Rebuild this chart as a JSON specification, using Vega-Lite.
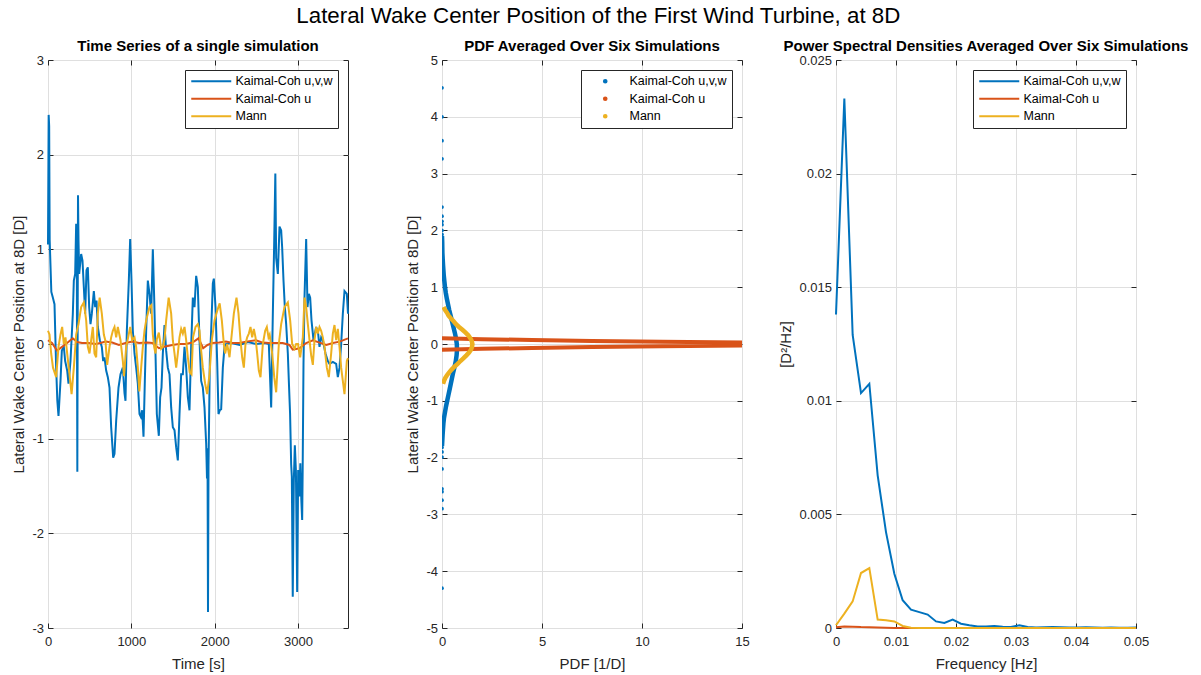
{
"$schema": "https://vega.github.io/schema/vega-lite/v6.json",
"background": "white",
"padding": {"left": 11, "top": 4, "right": 5, "bottom": 5},
"autosize": {"type": "pad"},
"bounds": "flush",
"spacing": 94,
"title": {"text": "Lateral Wake Center Position of the First Wind Turbine, at 8D", "fontSize": 22.3, "font": "Liberation Sans", "fontWeight": "normal", "color": "#000000", "anchor": "middle", "offset": 10, "dx": -2},
"config": {
  "font": "Liberation Sans",
  "view": {"stroke": "#262626", "strokeWidth": 1},
  "axis": {"labelFont": "Liberation Sans", "labelFontSize": 13, "labelColor": "#262626", "titleFont": "Liberation Sans", "titleFontSize": 15, "titleFontWeight": "normal", "titleColor": "#262626", "gridColor": "#dfdfdf", "gridWidth": 1, "tickColor": "#262626", "tickSize": -5, "tickWidth": 1, "domain": false, "labelFlush": false, "labelOverlap": false, "labelExpr": "'' + datum.value"},
  "axisX": {"labelPadding": 12, "titlePadding": 8},
  "axisY": {"labelPadding": 9.5, "titlePadding": 5},
  "title": {"font": "Liberation Sans", "fontSize": 15, "fontWeight": "bold", "color": "#000000", "offset": -1.5, "dy": -1.5},
  "legend": {"orient": "top-right", "offset": 10, "strokeColor": "#262626", "fillColor": "white", "padding": 5, "labelFont": "Liberation Sans", "labelFontSize": 12.5, "labelColor": "#000000", "rowPadding": 4.5, "cornerRadius": 0, "labelLimit": 300}
},
"resolve": {"legend": {"color": "independent"}},
"datasets": {
"ts_b": [{"t":0,"v":1.05},{"t":8,"v":2.42},{"t":14,"v":2.3},{"t":20,"v":1.1},{"t":40,"v":0.55},{"t":58,"v":0.49},{"t":78,"v":0.42},{"t":98,"v":-0.25},{"t":112,"v":-0.6},{"t":126,"v":-0.76},{"t":150,"v":-0.39},{"t":166,"v":-0.07},{"t":190,"v":-0.03},{"t":206,"v":-0.18},{"t":230,"v":-0.28},{"t":246,"v":-0.42},{"t":270,"v":-0.18},{"t":298,"v":0.32},{"t":310,"v":0.67},{"t":326,"v":0.74},{"t":338,"v":1.27},{"t":346,"v":0.74},{"t":352,"v":-1.35},{"t":356,"v":0.2},{"t":360,"v":1.57},{"t":366,"v":1.1},{"t":374,"v":0.74},{"t":398,"v":0.95},{"t":414,"v":0.88},{"t":430,"v":0.6},{"t":446,"v":0.32},{"t":462,"v":0.78},{"t":478,"v":0.81},{"t":494,"v":0.39},{"t":510,"v":0.21},{"t":526,"v":0.32},{"t":550,"v":0.56},{"t":566,"v":0.39},{"t":582,"v":0.46},{"t":598,"v":0.18},{"t":622,"v":0.04},{"t":646,"v":-0.03},{"t":662,"v":-0.18},{"t":678,"v":-0.14},{"t":698,"v":-0.28},{"t":718,"v":-0.35},{"t":738,"v":-0.46},{"t":758,"v":-0.88},{"t":782,"v":-1.2},{"t":798,"v":-1.16},{"t":818,"v":-0.81},{"t":846,"v":-0.46},{"t":870,"v":-0.32},{"t":898,"v":-0.25},{"t":918,"v":-0.52},{"t":930,"v":-0.6},{"t":946,"v":0.14},{"t":970,"v":0.67},{"t":986,"v":1.11},{"t":1002,"v":0.67},{"t":1018,"v":0.14},{"t":1038,"v":-0.1},{"t":1058,"v":-0.25},{"t":1078,"v":-0.42},{"t":1098,"v":-0.74},{"t":1114,"v":-0.77},{"t":1130,"v":-0.7},{"t":1146,"v":-0.98},{"t":1162,"v":-0.39},{"t":1178,"v":0.14},{"t":1198,"v":0.67},{"t":1218,"v":0.53},{"t":1238,"v":0.32},{"t":1258,"v":1.0},{"t":1274,"v":0.49},{"t":1290,"v":-0.1},{"t":1306,"v":-0.74},{"t":1330,"v":-0.97},{"t":1346,"v":-0.56},{"t":1362,"v":-0.46},{"t":1378,"v":-0.1},{"t":1398,"v":0.2},{"t":1418,"v":-0.07},{"t":1438,"v":-0.25},{"t":1458,"v":-0.32},{"t":1478,"v":-0.67},{"t":1498,"v":-0.88},{"t":1518,"v":-0.91},{"t":1538,"v":-1.09},{"t":1558,"v":-1.23},{"t":1578,"v":-0.74},{"t":1598,"v":-0.32},{"t":1618,"v":-0.32},{"t":1638,"v":-0.03},{"t":1658,"v":-0.25},{"t":1678,"v":-0.56},{"t":1698,"v":-0.7},{"t":1718,"v":-0.03},{"t":1738,"v":0.49},{"t":1758,"v":0.39},{"t":1778,"v":0.72},{"t":1798,"v":0.6},{"t":1818,"v":0.04},{"t":1838,"v":-0.39},{"t":1858,"v":-0.46},{"t":1878,"v":-0.67},{"t":1898,"v":-1.05},{"t":1908,"v":-1.42},{"t":1914,"v":-1.1},{"t":1920,"v":-2.83},{"t":1926,"v":-1.3},{"t":1942,"v":-0.17},{"t":1958,"v":0.14},{"t":1978,"v":0.64},{"t":1990,"v":0.69},{"t":2010,"v":0.39},{"t":2030,"v":-0.18},{"t":2046,"v":-0.74},{"t":2062,"v":-0.7},{"t":2078,"v":-0.69},{"t":2098,"v":-0.25},{"t":2118,"v":-0.03},{"t":2138,"v":0.0},{"t":2200,"v":0.01},{"t":2300,"v":-0.01},{"t":2400,"v":0.02},{"t":2500,"v":0.0},{"t":2600,"v":0.01},{"t":2650,"v":0.0},{"t":2678,"v":-0.67},{"t":2698,"v":0.32},{"t":2714,"v":1.06},{"t":2728,"v":1.8},{"t":2738,"v":0.91},{"t":2758,"v":0.74},{"t":2778,"v":1.24},{"t":2798,"v":1.2},{"t":2810,"v":1.02},{"t":2826,"v":0.67},{"t":2842,"v":0.39},{"t":2858,"v":0.21},{"t":2878,"v":-0.1},{"t":2890,"v":-0.39},{"t":2905,"v":-0.74},{"t":2918,"v":-1.27},{"t":2926,"v":-1.4},{"t":2937,"v":-2.67},{"t":2950,"v":-1.44},{"t":2962,"v":-1.07},{"t":2975,"v":-1.34},{"t":2990,"v":-2.62},{"t":3002,"v":-1.33},{"t":3016,"v":-1.61},{"t":3028,"v":-1.26},{"t":3040,"v":-1.65},{"t":3050,"v":-1.86},{"t":3056,"v":-1.33},{"t":3066,"v":-0.2},{"t":3078,"v":0.49},{"t":3098,"v":1.11},{"t":3114,"v":0.39},{"t":3130,"v":0.53},{"t":3146,"v":0.49},{"t":3162,"v":0.25},{"t":3186,"v":0.04},{"t":3218,"v":0.18},{"t":3242,"v":0.11},{"t":3258,"v":-0.03},{"t":3278,"v":0.07},{"t":3298,"v":0.04},{"t":3330,"v":-0.1},{"t":3358,"v":-0.18},{"t":3378,"v":-0.21},{"t":3418,"v":-0.19},{"t":3458,"v":-0.21},{"t":3478,"v":-0.35},{"t":3498,"v":-0.25},{"t":3518,"v":0.0},{"t":3538,"v":0.32},{"t":3558,"v":0.56},{"t":3586,"v":0.53},{"t":3600,"v":0.32}],
"ts_o": [{"t":0,"v":0.04},{"t":48,"v":0.01},{"t":108,"v":-0.07},{"t":169,"v":-0.03},{"t":229,"v":0.01},{"t":297,"v":0.06},{"t":349,"v":0.02},{"t":409,"v":0.01},{"t":490,"v":0.01},{"t":570,"v":0.0},{"t":630,"v":0.01},{"t":690,"v":0.025},{"t":770,"v":0.015},{"t":851,"v":-0.01},{"t":931,"v":0.01},{"t":1011,"v":0.025},{"t":1092,"v":0.01},{"t":1192,"v":0.015},{"t":1252,"v":0.01},{"t":1332,"v":-0.045},{"t":1393,"v":-0.03},{"t":1493,"v":-0.01},{"t":1573,"v":0.0},{"t":1653,"v":0.0},{"t":1734,"v":0.015},{"t":1806,"v":0.06},{"t":1862,"v":-0.045},{"t":1914,"v":-0.01},{"t":1974,"v":0.01},{"t":2055,"v":0.015},{"t":2135,"v":0.025},{"t":2215,"v":0.01},{"t":2295,"v":0.01},{"t":2376,"v":0.025},{"t":2496,"v":0.04},{"t":2576,"v":0.015},{"t":2657,"v":0.01},{"t":2737,"v":0.01},{"t":2817,"v":0.01},{"t":2897,"v":-0.01},{"t":2937,"v":-0.06},{"t":3018,"v":-0.045},{"t":3098,"v":0.01},{"t":3178,"v":0.04},{"t":3259,"v":0.015},{"t":3339,"v":-0.01},{"t":3419,"v":0.01},{"t":3499,"v":0.025},{"t":3600,"v":0.06}],
"ts_y": [{"t":0,"v":0.14},{"t":18,"v":0.1},{"t":38,"v":-0.1},{"t":60,"v":-0.25},{"t":98,"v":-0.35},{"t":126,"v":-0.03},{"t":150,"v":0.1},{"t":170,"v":0.18},{"t":190,"v":0.0},{"t":210,"v":0.07},{"t":230,"v":-0.1},{"t":258,"v":-0.32},{"t":283,"v":-0.53},{"t":310,"v":-0.25},{"t":338,"v":0.1},{"t":366,"v":0.21},{"t":398,"v":0.39},{"t":430,"v":0.44},{"t":458,"v":0.25},{"t":478,"v":-0.03},{"t":498,"v":-0.1},{"t":518,"v":0.04},{"t":538,"v":0.18},{"t":558,"v":-0.1},{"t":578,"v":-0.14},{"t":598,"v":0.32},{"t":620,"v":0.49},{"t":646,"v":0.32},{"t":670,"v":0.1},{"t":690,"v":0.03},{"t":710,"v":-0.22},{"t":738,"v":-0.03},{"t":758,"v":0.07},{"t":778,"v":0.14},{"t":798,"v":0.18},{"t":818,"v":0.07},{"t":838,"v":0.18},{"t":870,"v":0.04},{"t":898,"v":-0.18},{"t":912,"v":-0.34},{"t":938,"v":-0.03},{"t":962,"v":0.07},{"t":986,"v":0.18},{"t":1010,"v":0.04},{"t":1038,"v":0.07},{"t":1058,"v":-0.03},{"t":1078,"v":-0.25},{"t":1096,"v":-0.5},{"t":1118,"v":-0.25},{"t":1138,"v":-0.03},{"t":1158,"v":0.14},{"t":1178,"v":0.25},{"t":1218,"v":0.39},{"t":1240,"v":0.41},{"t":1258,"v":0.1},{"t":1274,"v":-0.03},{"t":1290,"v":-0.1},{"t":1306,"v":0.05},{"t":1330,"v":0.12},{"t":1358,"v":-0.05},{"t":1378,"v":-0.03},{"t":1398,"v":0.05},{"t":1418,"v":0.25},{"t":1448,"v":0.49},{"t":1478,"v":0.32},{"t":1498,"v":0.04},{"t":1518,"v":-0.1},{"t":1538,"v":-0.25},{"t":1558,"v":-0.1},{"t":1578,"v":0.07},{"t":1598,"v":0.16},{"t":1618,"v":0.11},{"t":1638,"v":0.18},{"t":1658,"v":0.04},{"t":1678,"v":-0.14},{"t":1700,"v":-0.3},{"t":1722,"v":-0.32},{"t":1740,"v":0.07},{"t":1770,"v":0.18},{"t":1798,"v":0.21},{"t":1818,"v":0.14},{"t":1830,"v":0.0},{"t":1858,"v":-0.25},{"t":1886,"v":-0.42},{"t":1910,"v":-0.53},{"t":1938,"v":-0.32},{"t":1966,"v":0.04},{"t":1998,"v":0.25},{"t":2030,"v":0.35},{"t":2060,"v":0.43},{"t":2086,"v":0.25},{"t":2110,"v":0.0},{"t":2126,"v":-0.1},{"t":2150,"v":0.0},{"t":2178,"v":-0.14},{"t":2198,"v":0.04},{"t":2230,"v":0.32},{"t":2262,"v":0.49},{"t":2286,"v":0.32},{"t":2310,"v":0.04},{"t":2330,"v":-0.14},{"t":2350,"v":-0.25},{"t":2370,"v":0.0},{"t":2390,"v":0.07},{"t":2410,"v":0.11},{"t":2430,"v":0.18},{"t":2450,"v":0.07},{"t":2470,"v":0.16},{"t":2490,"v":0.07},{"t":2510,"v":-0.1},{"t":2530,"v":-0.28},{"t":2550,"v":-0.35},{"t":2578,"v":0.0},{"t":2606,"v":0.14},{"t":2626,"v":0.18},{"t":2646,"v":0.07},{"t":2660,"v":0.1},{"t":2690,"v":-0.1},{"t":2715,"v":-0.35},{"t":2738,"v":-0.51},{"t":2770,"v":0.0},{"t":2798,"v":0.21},{"t":2838,"v":0.39},{"t":2878,"v":0.44},{"t":2906,"v":0.25},{"t":2930,"v":0.0},{"t":2958,"v":-0.05},{"t":2978,"v":0.0},{"t":3000,"v":0.0},{"t":3026,"v":-0.14},{"t":3058,"v":0.07},{"t":3078,"v":0.49},{"t":3098,"v":0.39},{"t":3118,"v":0.21},{"t":3138,"v":0.04},{"t":3158,"v":-0.12},{"t":3178,"v":-0.22},{"t":3198,"v":0.04},{"t":3218,"v":0.18},{"t":3238,"v":0.11},{"t":3258,"v":0.18},{"t":3278,"v":0.14},{"t":3298,"v":0.07},{"t":3318,"v":-0.03},{"t":3346,"v":-0.25},{"t":3370,"v":-0.35},{"t":3398,"v":-0.1},{"t":3418,"v":0.11},{"t":3438,"v":0.2},{"t":3458,"v":0.04},{"t":3478,"v":0.16},{"t":3498,"v":-0.03},{"t":3518,"v":-0.25},{"t":3538,"v":-0.39},{"t":3558,"v":-0.53},{"t":3586,"v":-0.18},{"t":3600,"v":-0.15}],
"pdf_b": [{"y":1.9,"p":0.0},{"y":1.8,"p":0.01},{"y":1.7,"p":0.015},{"y":1.6,"p":0.02},{"y":1.5,"p":0.035},{"y":1.4,"p":0.05},{"y":1.3,"p":0.07},{"y":1.2,"p":0.09},{"y":1.1,"p":0.12},{"y":1.0,"p":0.15},{"y":0.9,"p":0.19},{"y":0.8,"p":0.24},{"y":0.7,"p":0.3},{"y":0.6,"p":0.36},{"y":0.5,"p":0.43},{"y":0.4,"p":0.5},{"y":0.3,"p":0.57},{"y":0.2,"p":0.64},{"y":0.1,"p":0.7},{"y":0.0,"p":0.74},{"y":-0.1,"p":0.75},{"y":-0.2,"p":0.73},{"y":-0.3,"p":0.69},{"y":-0.4,"p":0.63},{"y":-0.5,"p":0.56},{"y":-0.6,"p":0.5},{"y":-0.7,"p":0.44},{"y":-0.8,"p":0.38},{"y":-0.9,"p":0.32},{"y":-1.0,"p":0.26},{"y":-1.1,"p":0.2},{"y":-1.2,"p":0.15},{"y":-1.3,"p":0.1},{"y":-1.4,"p":0.07},{"y":-1.5,"p":0.05},{"y":-1.6,"p":0.03},{"y":-1.7,"p":0.015},{"y":-1.8,"p":0.0}],
"pdf_bp": [{"y":4.51,"p":0},{"y":4.0,"p":0},{"y":3.58,"p":0},{"y":3.26,"p":0},{"y":2.41,"p":0},{"y":2.25,"p":0},{"y":2.16,"p":0},{"y":2.1,"p":0},{"y":2.0,"p":0},{"y":1.93,"p":0},{"y":-1.82,"p":0},{"y":-1.9,"p":0},{"y":-1.99,"p":0},{"y":-2.2,"p":0},{"y":-2.55,"p":0},{"y":-2.6,"p":0},{"y":-2.75,"p":0},{"y":-2.9,"p":0},{"y":-4.3,"p":0}],
"pdf_o": [{"y":-0.1,"p":0},{"y":-0.085,"p":2},{"y":-0.07,"p":4.5},{"y":-0.055,"p":7.5},{"y":-0.04,"p":11},{"y":-0.025,"p":15},{"y":0.0,"p":18},{"y":0.025,"p":15},{"y":0.04,"p":11},{"y":0.055,"p":7.5},{"y":0.07,"p":4.5},{"y":0.085,"p":2},{"y":0.1,"p":0}],
"pdf_y": [{"y":0.65,"p":0.08},{"y":0.6,"p":0.15},{"y":0.55,"p":0.25},{"y":0.5,"p":0.33},{"y":0.45,"p":0.45},{"y":0.4,"p":0.58},{"y":0.35,"p":0.7},{"y":0.3,"p":0.85},{"y":0.25,"p":1.02},{"y":0.2,"p":1.18},{"y":0.15,"p":1.32},{"y":0.1,"p":1.42},{"y":0.05,"p":1.49},{"y":0.0,"p":1.52},{"y":-0.05,"p":1.5},{"y":-0.1,"p":1.45},{"y":-0.15,"p":1.35},{"y":-0.2,"p":1.22},{"y":-0.25,"p":1.08},{"y":-0.3,"p":0.92},{"y":-0.35,"p":0.78},{"y":-0.4,"p":0.62},{"y":-0.45,"p":0.48},{"y":-0.5,"p":0.36},{"y":-0.55,"p":0.25},{"y":-0.6,"p":0.16},{"y":-0.65,"p":0.1},{"y":-0.7,"p":0.05}],
"psd_b": [{"f":0,"v":0.0138},{"f":0.001389,"v":0.0233},{"f":0.002778,"v":0.0129},{"f":0.004167,"v":0.01034},{"f":0.005556,"v":0.01075},{"f":0.006944,"v":0.00672},{"f":0.008333,"v":0.00422},{"f":0.009722,"v":0.00239},{"f":0.011111,"v":0.00122},{"f":0.0125,"v":0.00081},{"f":0.013889,"v":0.0007},{"f":0.015278,"v":0.00059},{"f":0.016667,"v":0.00029},{"f":0.018056,"v":0.00022},{"f":0.019444,"v":0.00037},{"f":0.020833,"v":0.00019},{"f":0.022222,"v":0.00012},{"f":0.023611,"v":0.00007},{"f":0.025,"v":0.00007},{"f":0.026389,"v":0.00009},{"f":0.027778,"v":0.00006},{"f":0.029167,"v":0.00004},{"f":0.030556,"v":0.00012},{"f":0.031944,"v":0.00004},{"f":0.033333,"v":0.00002},{"f":0.034722,"v":0.00003},{"f":0.036111,"v":0.00004},{"f":0.0375,"v":0.00003},{"f":0.038889,"v":0.00002},{"f":0.040278,"v":0.00002},{"f":0.041667,"v":0.00003},{"f":0.043056,"v":0.00002},{"f":0.044444,"v":0.00001},{"f":0.045833,"v":0.00002},{"f":0.047222,"v":0.00001},{"f":0.048611,"v":0.00001},{"f":0.05,"v":0.00002}],
"psd_o": [{"f":0,"v":0.00003},{"f":0.001389,"v":0.00007},{"f":0.002778,"v":0.00006},{"f":0.004167,"v":0.00004},{"f":0.005556,"v":0.00003},{"f":0.006944,"v":0.00002},{"f":0.008333,"v":0.00001},{"f":0.009722,"v":0.0},{"f":0.015278,"v":0.0},{"f":0.025,"v":0.0},{"f":0.0375,"v":0.0},{"f":0.05,"v":0.0}],
"psd_y": [{"f":0,"v":0.00012},{"f":0.001389,"v":0.00063},{"f":0.002778,"v":0.00117},{"f":0.004167,"v":0.00242},{"f":0.005556,"v":0.00264},{"f":0.006944,"v":0.00037},{"f":0.008333,"v":0.00034},{"f":0.009722,"v":0.00029},{"f":0.011111,"v":0.00009},{"f":0.0125,"v":0.00001},{"f":0.013889,"v":0.0},{"f":0.020833,"v":0.0},{"f":0.030556,"v":0.0},{"f":0.040278,"v":0.0},{"f":0.05,"v":0.0}]
},
"hconcat": [
{
  "width": 300, "height": 568,
  "title": "Time Series of a single simulation",
  "resolve": {"axis": {"x": "independent", "y": "independent"}},
  "layer": [
    {"data": {"name": "ts_b"}, "mark": {"type": "line", "strokeWidth": 2},
     "encoding": {
       "x": {"field": "t", "type": "quantitative", "scale": {"domain": [0, 3600], "nice": false, "zero": false}, "axis": {"title": "Time [s]", "values": [0, 1000, 2000, 3000], "grid": true}},
       "y": {"field": "v", "type": "quantitative", "scale": {"domain": [-3, 3], "nice": false}, "axis": {"title": "Lateral Wake Center Position at 8D [D]", "values": [-3, -2, -1, 0, 1, 2, 3], "grid": true}},
       "color": {"datum": "Kaimal-Coh u,v,w", "type": "nominal", "scale": {"domain": ["Kaimal-Coh u,v,w", "Kaimal-Coh u", "Mann"], "range": ["#0072BD", "#D95319", "#EDB120"]}, "legend": {"title": null, "symbolType": "M-4,0H4", "symbolSize": 100, "symbolStrokeWidth": 2, "symbolOffset": 15, "labelOffset": 18}}
     }},
    {"data": {"name": "ts_o"}, "mark": {"type": "line", "strokeWidth": 2},
     "encoding": {"x": {"field": "t", "type": "quantitative", "axis": null}, "y": {"field": "v", "type": "quantitative", "axis": null}, "color": {"datum": "Kaimal-Coh u", "type": "nominal"}}},
    {"data": {"name": "ts_y"}, "mark": {"type": "line", "strokeWidth": 2},
     "encoding": {"x": {"field": "t", "type": "quantitative", "axis": null}, "y": {"field": "v", "type": "quantitative", "axis": null}, "color": {"datum": "Mann", "type": "nominal"}}},
    {"data": {"name": "ts_o"}, "mark": {"type": "point", "opacity": 0},
     "encoding": {"x": {"field": "t", "type": "quantitative", "axis": {"orient": "top", "labels": false, "title": null, "grid": false, "values": [0, 1000, 2000, 3000]}}, "y": {"field": "v", "type": "quantitative", "axis": {"orient": "right", "labels": false, "title": null, "grid": false, "values": [-3, -2, -1, 0, 1, 2, 3]}}}}
  ]
},
{
  "width": 300, "height": 568,
  "title": "PDF Averaged Over Six Simulations",
  "resolve": {"axis": {"x": "independent", "y": "independent"}},
  "layer": [
    {"data": {"name": "pdf_bp"}, "mark": {"type": "point", "filled": true, "size": 14, "opacity": 1, "clip": true},
     "encoding": {
       "x": {"field": "p", "type": "quantitative", "scale": {"domain": [0, 15], "nice": false, "zero": false}, "axis": {"title": "PDF [1/D]", "values": [0, 5, 10, 15], "grid": true}},
       "y": {"field": "y", "type": "quantitative", "scale": {"domain": [-5, 5], "nice": false}, "axis": {"title": "Lateral Wake Center Position at 8D [D]", "values": [-5, -4, -3, -2, -1, 0, 1, 2, 3, 4, 5], "grid": true}},
       "color": {"datum": "Kaimal-Coh u,v,w", "type": "nominal", "scale": {"domain": ["Kaimal-Coh u,v,w", "Kaimal-Coh u", "Mann"], "range": ["#0072BD", "#D95319", "#EDB120"]}, "legend": {"title": null, "symbolType": "circle", "symbolSize": 10, "symbolOffset": 13, "labelOffset": 18}}}},
    {"data": {"name": "pdf_b"}, "mark": {"type": "line", "strokeWidth": 4.5, "clip": true},
     "encoding": {"x": {"field": "p", "type": "quantitative", "axis": null}, "y": {"field": "y", "type": "quantitative", "axis": null}, "order": {"field": "y", "type": "quantitative"}, "color": {"datum": "Kaimal-Coh u,v,w", "type": "nominal"}}},
    {"data": {"name": "pdf_o"}, "mark": {"type": "line", "strokeWidth": 4, "clip": true},
     "encoding": {"x": {"field": "p", "type": "quantitative", "axis": null}, "y": {"field": "y", "type": "quantitative", "axis": null}, "order": {"field": "y", "type": "quantitative"}, "color": {"datum": "Kaimal-Coh u", "type": "nominal"}}},
    {"data": {"name": "pdf_y"}, "mark": {"type": "line", "strokeWidth": 4.5, "clip": true},
     "encoding": {"x": {"field": "p", "type": "quantitative", "axis": null}, "y": {"field": "y", "type": "quantitative", "axis": null}, "order": {"field": "y", "type": "quantitative"}, "color": {"datum": "Mann", "type": "nominal"}}},
    {"data": {"name": "pdf_bp"}, "mark": {"type": "point", "opacity": 0},
     "encoding": {"x": {"field": "p", "type": "quantitative", "axis": {"orient": "top", "labels": false, "title": null, "grid": false, "values": [0, 5, 10, 15]}}, "y": {"field": "y", "type": "quantitative", "axis": {"orient": "right", "labels": false, "title": null, "grid": false, "values": [-5, -4, -3, -2, -1, 0, 1, 2, 3, 4, 5]}}}}
  ]
},
{
  "width": 300, "height": 568,
  "title": "Power Spectral Densities Averaged Over Six Simulations",
  "resolve": {"axis": {"x": "independent", "y": "independent"}},
  "layer": [
    {"data": {"name": "psd_b"}, "mark": {"type": "line", "strokeWidth": 2},
     "encoding": {
       "x": {"field": "f", "type": "quantitative", "scale": {"domain": [0, 0.05], "nice": false, "zero": false}, "axis": {"title": "Frequency [Hz]", "values": [0, 0.01, 0.02, 0.03, 0.04, 0.05], "grid": true}},
       "y": {"field": "v", "type": "quantitative", "scale": {"domain": [0, 0.025], "nice": false}, "axis": {"title": "[D²/Hz]", "values": [0, 0.005, 0.01, 0.015, 0.02, 0.025], "grid": true}},
       "color": {"datum": "Kaimal-Coh u,v,w", "type": "nominal", "scale": {"domain": ["Kaimal-Coh u,v,w", "Kaimal-Coh u", "Mann"], "range": ["#0072BD", "#D95319", "#EDB120"]}, "legend": {"title": null, "symbolType": "M-4,0H4", "symbolSize": 100, "symbolStrokeWidth": 2, "symbolOffset": 15, "labelOffset": 18}}
     }},
    {"data": {"name": "psd_o"}, "mark": {"type": "line", "strokeWidth": 2},
     "encoding": {"x": {"field": "f", "type": "quantitative", "axis": null}, "y": {"field": "v", "type": "quantitative", "axis": null}, "color": {"datum": "Kaimal-Coh u", "type": "nominal"}}},
    {"data": {"name": "psd_y"}, "mark": {"type": "line", "strokeWidth": 2},
     "encoding": {"x": {"field": "f", "type": "quantitative", "axis": null}, "y": {"field": "v", "type": "quantitative", "axis": null}, "color": {"datum": "Mann", "type": "nominal"}}},
    {"data": {"name": "psd_o"}, "mark": {"type": "point", "opacity": 0},
     "encoding": {"x": {"field": "f", "type": "quantitative", "axis": {"orient": "top", "labels": false, "title": null, "grid": false, "values": [0, 0.01, 0.02, 0.03, 0.04, 0.05]}}, "y": {"field": "v", "type": "quantitative", "axis": {"orient": "right", "labels": false, "title": null, "grid": false, "values": [0, 0.005, 0.01, 0.015, 0.02, 0.025]}}}}
  ]
}
]
}
